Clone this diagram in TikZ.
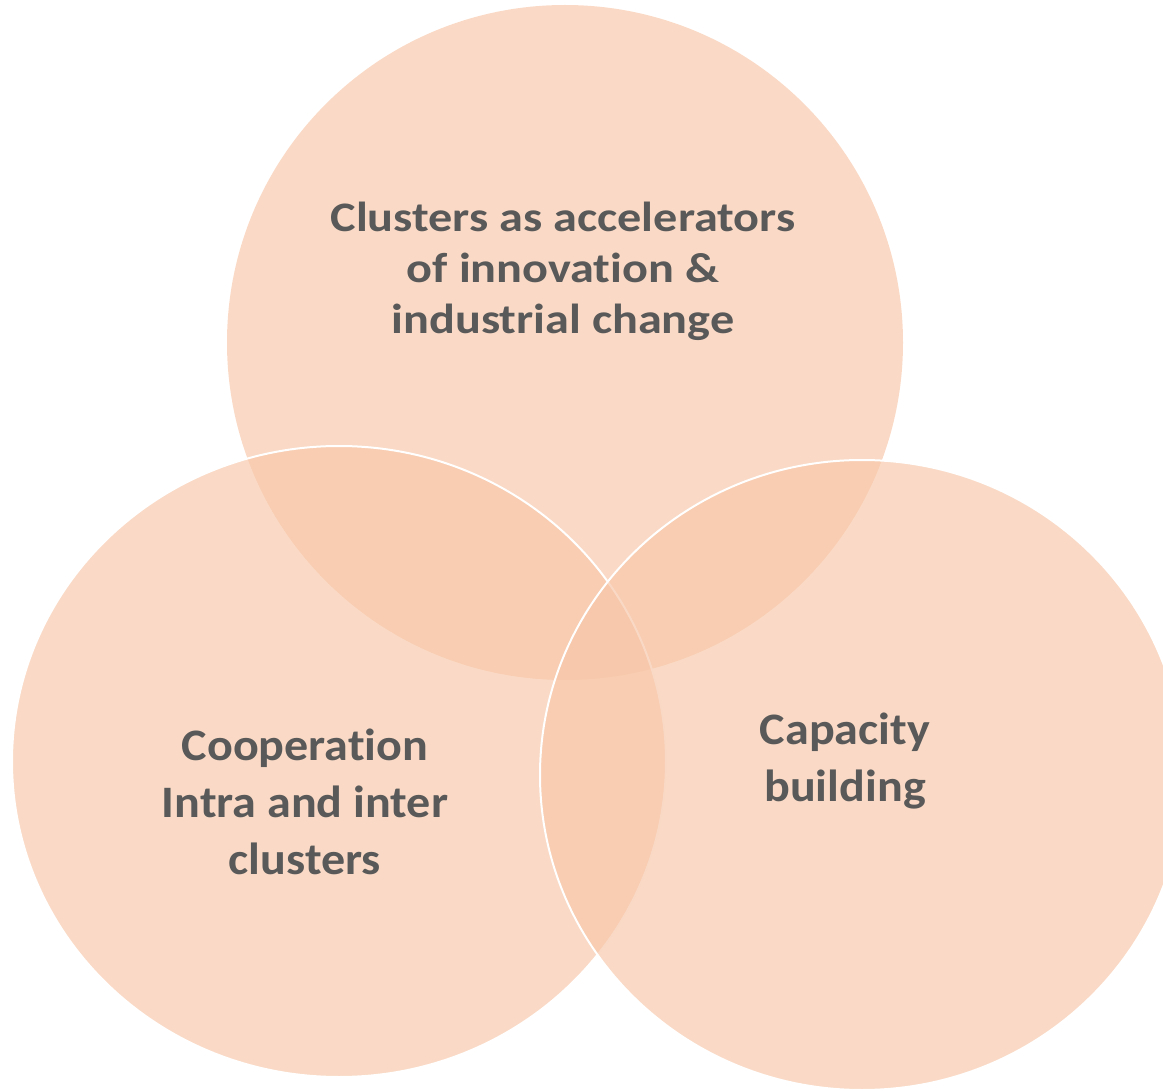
\documentclass[tikz,border=0pt]{standalone}
\usepackage{fontspec}
\setmainfont{Carlito}[Ligatures=NoCommon]
\definecolor{venn}{RGB}{247,198,167}
\definecolor{txt}{RGB}{89,89,89}
\tikzset{
  vennfill/.style={fill=venn, fill opacity=0.65, draw=none},
  vennline/.style={fill=venn, fill opacity=0.65, draw=white, draw opacity=1, line width=2pt},
  vtext/.style={text=txt, align=center, font=\bfseries\addfontfeatures{FakeStretch=1.148}\fontsize{42}{51}\selectfont, inner sep=0pt},
  vtextb/.style={text=txt, align=center, font=\bfseries\addfontfeatures{FakeStretch=1.068}\fontsize{45}{57}\selectfont, inner sep=0pt}
}
\begin{document}
\begin{tikzpicture}[x=1pt,y=-1pt]
\useasboundingbox (0,0) rectangle (1163,1091);
\path[vennfill] (565,342.5) ellipse [x radius=338, y radius=337.5];
\path[vennline] (339,761.5) ellipse [x radius=327, y radius=315.5];
\path[vennline] (862,775) ellipse [x radius=322, y radius=315];
\node[vtext] (top) at (563,271) {Clusters as accelerators\\of innovation \&\\industrial change};
\node[vtextb] (left) at (305,802) {Cooperation\\Intra and inter\\clusters};
\node[vtextb] (right) at (845,761) {Capacity\\building};
\end{tikzpicture}
\end{document}
